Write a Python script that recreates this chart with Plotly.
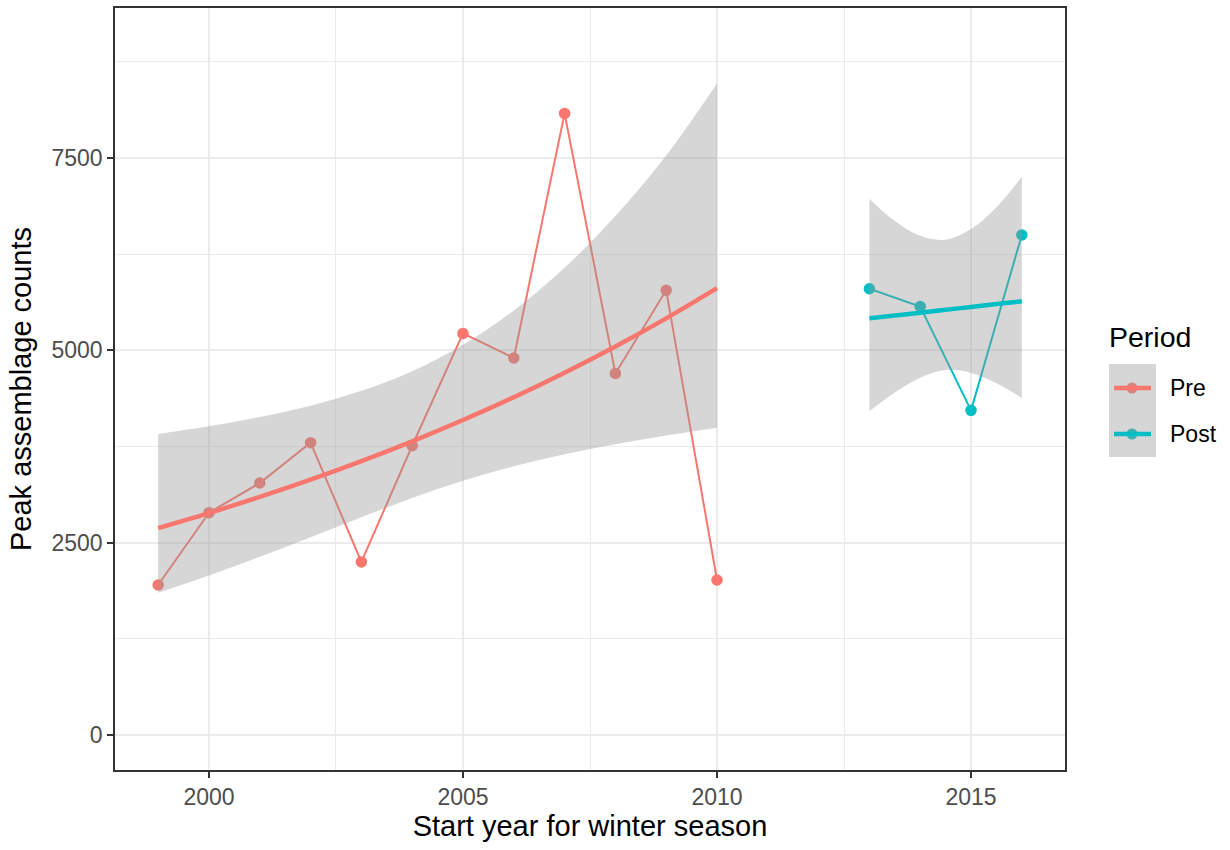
import plotly.graph_objects as go

# ---- data ----
pre_years = [1999, 2000, 2001, 2002, 2003, 2004, 2005, 2006, 2007, 2008, 2009, 2010]
pre_counts = [1950, 2890, 3275, 3800, 2250, 3760, 5220, 4900, 8080, 4700, 5780, 2015]
post_years = [2013, 2014, 2015, 2016]
post_counts = [5800, 5570, 4220, 6500]

# smoother (fit and confidence band)
pre_fit_x = [1999, 2000, 2001, 2002, 2003, 2004, 2005, 2006, 2007, 2008, 2009, 2010]
pre_fit = [2690, 2885, 3094, 3318, 3559, 3817, 4094, 4390, 4709, 5050, 5416, 5808]
pre_upper = [3914, 4013, 4133, 4280, 4474, 4729, 5072, 5518, 6075, 6747, 7534, 8470]
pre_lower = [1849, 2074, 2316, 2572, 2831, 3081, 3304, 3492, 3650, 3780, 3894, 3995]

post_fit_x = [2013, 2013.5, 2014, 2014.5, 2015, 2015.5, 2016]
post_fit = [5417, 5453, 5490, 5527, 5564, 5601, 5638]
post_upper = [6972, 6680, 6489, 6439, 6577, 6861, 7256]
post_lower = [4209, 4451, 4645, 4744, 4707, 4572, 4381]

x_ticks = [2000, 2005, 2010, 2015]
y_ticks = [0, 2500, 5000, 7500]

PRE_COL = "#F8766D"
POST_COL = "#00BFC4"
BAND = "rgba(153,153,153,0.4)"
FONT = "Liberation Sans, Arial, Helvetica, sans-serif"

fig = go.Figure()

# observed series (drawn first, band overlays them)
for xs, ys, col in [(pre_years, pre_counts, PRE_COL), (post_years, post_counts, POST_COL)]:
    fig.add_trace(go.Scatter(x=xs, y=ys, mode="lines+markers",
                             line=dict(color=col, width=2),
                             marker=dict(color=col, size=11.5),
                             showlegend=False, hoverinfo="skip"))

# confidence bands
for xs, lo, hi in [(pre_fit_x, pre_lower, pre_upper), (post_fit_x, post_lower, post_upper)]:
    fig.add_trace(go.Scatter(x=xs, y=lo, mode="lines", line=dict(width=0, shape="spline"),
                             showlegend=False, hoverinfo="skip"))
    fig.add_trace(go.Scatter(x=xs, y=hi, mode="lines", line=dict(width=0, shape="spline"),
                             fill="tonexty", fillcolor=BAND,
                             showlegend=False, hoverinfo="skip"))

# fitted lines
for xs, ys, col in [(pre_fit_x, pre_fit, PRE_COL), (post_fit_x, post_fit, POST_COL)]:
    fig.add_trace(go.Scatter(x=xs, y=ys, mode="lines",
                             line=dict(color=col, width=4.5, shape="spline"),
                             showlegend=False, hoverinfo="skip"))

# ---- layout ----
W, H = 1230, 850
L, R, T, B = 115, 165, 8, 80
pw, ph = W - L - R, H - T - B


def px2x(px):
    return (px - L) / pw


def px2y(py):
    return (H - B - py) / ph


axis_common = dict(
    showline=True, linecolor="#333333", linewidth=1.5, mirror=True,
    ticks="outside", ticklen=6, tickwidth=1.5, tickcolor="#333333",
    showgrid=True, gridcolor="#EBEBEB", gridwidth=1.8,
    zeroline=False,
    tickfont=dict(family=FONT, size=23, color="#4D4D4D"),
)

fig.update_xaxes(range=[1998.15, 2016.85], tickvals=x_ticks,
                 ticktext=[str(v) for v in x_ticks],
                 minor=dict(dtick=2.5, tick0=2000, showgrid=True, gridcolor="#EBEBEB",
                            gridwidth=0.9, ticks=""),
                 title=dict(text="Start year for winter season",
                            font=dict(family=FONT, size=29, color="black"), standoff=5),
                 **axis_common)
fig.update_yaxes(range=[-455, 9450], tickvals=y_ticks,
                 ticktext=[str(v) for v in y_ticks],
                 minor=dict(dtick=1250, tick0=0, showgrid=True, gridcolor="#EBEBEB",
                            gridwidth=0.9, ticks=""),
                 title=dict(text="Peak assemblage counts",
                            font=dict(family=FONT, size=29, color="black"), standoff=11),
                 **axis_common)

# manual legend (ggplot style with grey key background)
shapes = [dict(type="rect", xref="paper", yref="paper",
               x0=px2x(1109), x1=px2x(1156), y0=px2y(457), y1=px2y(364),
               fillcolor="#D6D6D6", line=dict(width=0), layer="above")]
annotations = [dict(text="Period", xref="paper", yref="paper", x=px2x(1107), y=px2y(337),
                    xanchor="left", yanchor="middle", showarrow=False,
                    font=dict(family=FONT, size=28.5, color="black"))]
for label, col, blend, py in [("Pre", PRE_COL, "#D2847E", 388), ("Post", POST_COL, "#3DB0B3", 434)]:
    shapes.append(dict(type="circle", xref="paper", yref="paper",
                       x0=px2x(1132 - 5.5), x1=px2x(1132 + 5.5),
                       y0=px2y(py + 5.5), y1=px2y(py - 5.5),
                       fillcolor=blend, line=dict(width=0), layer="above"))
    shapes.append(dict(type="line", xref="paper", yref="paper",
                       x0=px2x(1114), x1=px2x(1151), y0=px2y(py), y1=px2y(py),
                       line=dict(color=col, width=4.5), layer="above"))
    annotations.append(dict(text=label, xref="paper", yref="paper", x=px2x(1168), y=px2y(py),
                            xanchor="left", yanchor="middle", showarrow=False,
                            font=dict(family=FONT, size=23, color="black")))

fig.update_layout(
    width=W, height=H,
    margin=dict(l=L, r=R, t=T, b=B, autoexpand=False),
    paper_bgcolor="white", plot_bgcolor="white",
    shapes=shapes, annotations=annotations,
    showlegend=False,
    font=dict(family=FONT),
)

fig.write_html("out.html")
